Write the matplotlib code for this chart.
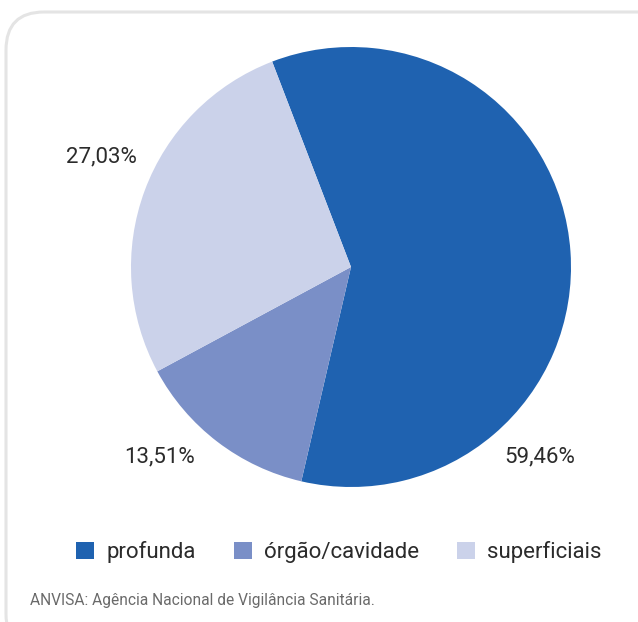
import matplotlib.pyplot as plt
from matplotlib.patches import FancyBboxPatch, Patch
from matplotlib.transforms import IdentityTransform

# Data
categories = ["profunda", "órgão/cavidade", "superficiais"]
shares = [59.46, 13.51, 27.03]
share_labels = ["59,46%", "13,51%", "27,03%"]
colors = ["#1f62b0", "#7a8fc7", "#cbd2ea"]
source_text = "ANVISA: Agência Nacional de Vigilância Sanitária."

plt.rcParams['font.family'] = ['Roboto', 'DejaVu Sans']

W, H = 638, 622
fig = plt.figure(figsize=(W / 100, H / 100), dpi=100)

# Rounded frame around the chart (pixel coordinates)
frame = FancyBboxPatch((6, -30), 670, 640, boxstyle="round,pad=0,rounding_size=38",
                       transform=IdentityTransform(), facecolor="none",
                       edgecolor="#e4e4e4", linewidth=2.2, zorder=-5)
fig.patches.append(frame)

# Pie axes: center (351, 267), radius 220 px
cx, cy, r = 351, 267, 220
ax = fig.add_axes([(cx - r) / W, (H - cy - r) / H, 2 * r / W, 2 * r / H])
ax.patch.set_visible(False)
ax.pie(shares, colors=colors, startangle=111, counterclock=False,
       wedgeprops=dict(linewidth=0))
ax.set_xlim(-1, 1)
ax.set_ylim(-1, 1)
ax.set_aspect("equal")
ax.axis("off")

# Percentage labels
label_pos = [(0.86, -0.865), (-0.87, -0.865), (-1.135, 0.5)]
for (x, y), txt in zip(label_pos, share_labels):
    ax.text(x, y, txt, ha="center", va="center", fontsize=16,
            color="#2b2b2b", clip_on=False)

# Legend
handles = [Patch(facecolor=c, edgecolor="none", label=l)
           for c, l in zip(colors, categories)]
fig.legend(handles=handles, loc="center", bbox_to_anchor=(339 / W, 1 - 552 / H),
           ncol=3, frameon=False, fontsize=16, handlelength=0.82,
           handleheight=0.82, handletextpad=0.55, columnspacing=1.7,
           labelcolor="#2b2b2b")

# Source note
fig.text(30 / W, 1 - 601 / H, source_text, ha="left", va="center",
         fontsize=11.2, color="#6a6a6a")

fig.savefig("out.png", dpi=100)
